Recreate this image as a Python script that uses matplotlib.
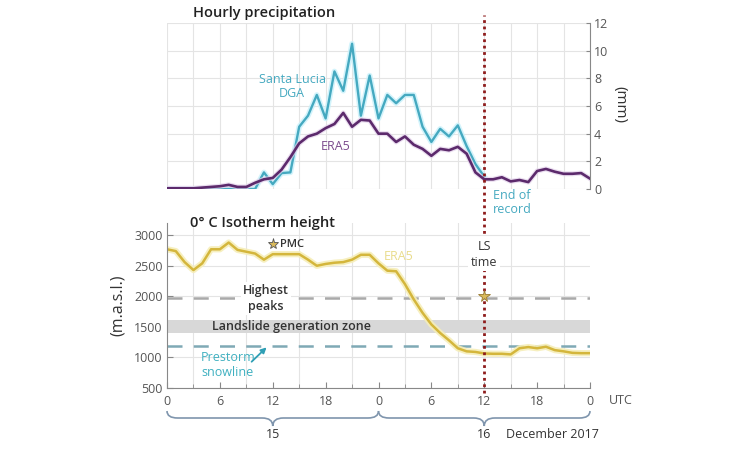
import matplotlib
matplotlib.use("Agg")
import matplotlib.pyplot as plt
from matplotlib.path import Path
from matplotlib.patches import PathPatch
from matplotlib.lines import Line2D
import matplotlib.transforms as mtrans
import numpy as np

plt.rcParams['font.family'] = ['Open Sans', 'DejaVu Sans']

# ---- data ----
hours = list(range(49))
era5_precip = [0.05, 0.05, 0.05, 0.05, 0.1, 0.15, 0.2, 0.3, 0.15, 0.15, 0.45, 0.7, 0.8,
               1.4, 2.3, 3.3, 3.8, 4.0, 4.4, 4.7, 5.5, 4.5, 5.0, 4.95, 4.0, 4.0, 3.4,
               3.8, 3.2, 2.9, 2.4, 2.9, 2.8, 3.05, 2.55, 1.2, 0.7, 0.7, 0.85, 0.55,
               0.65, 0.5, 1.3, 1.45, 1.25, 1.1, 1.1, 1.15, 0.75]
dga_hours = list(range(37))
dga_precip = [0, 0, 0, 0, 0, 0, 0, 0, 0, 0, 0, 1.2, 0.35, 1.15, 1.2, 4.5, 5.3, 6.8,
              5.1, 8.5, 7.1, 10.5, 5.3, 8.2, 5.1, 6.8, 6.2, 6.8, 6.8, 4.5, 3.4, 4.35,
              3.8, 4.6, 3.1, 1.8, 0.9]
era5_iso = [2770, 2740, 2560, 2430, 2540, 2770, 2770, 2880, 2760, 2730, 2700, 2600,
            2690, 2690, 2690, 2690, 2600, 2500, 2530, 2550, 2560, 2600, 2680, 2680,
            2540, 2420, 2410, 2200, 1950, 1730, 1540, 1400, 1280, 1150, 1100, 1090,
            1065, 1060, 1060, 1050, 1150, 1170, 1150, 1175, 1120, 1100, 1075, 1070, 1070]
highest_peaks = 1970
landslide_zone = (1400, 1620)
prestorm_snowline = 1190
ls_time = 36
pmc = (12, 2850)
ls_star = (36, 2000)
xtick_pos = [0, 6, 12, 18, 24, 30, 36, 42, 48]
xtick_labels = ['0', '6', '12', '18', '0', '6', '12', '18', '0']
day_labels = ['15', '16']
day_centers = [12, 36]

W, H = 738, 450
fig = plt.figure(figsize=(W / 100, H / 100), dpi=100)
fig.patch.set_facecolor('white')

def fx(px):
    return px / W

def fy(py):
    return 1 - py / H

L, R = 167, 590
ax1 = fig.add_axes([fx(L), fy(189), fx(R) - fx(L), fy(23) - fy(189)])
ax2 = fig.add_axes([fx(L), fy(388), fx(R) - fx(L), fy(223) - fy(388)])

TEAL = '#45a9c0'
PURPLE = '#5c2a6c'
YELLOW = '#d4b63c'
GRID = '#e4e4e4'
TXT = '#333333'
TICK = '#555555'

# ---- top panel ----
ax1.set_xlim(0, 48)
ax1.set_ylim(0, 12)
for s in ['left', 'top', 'bottom']:
    ax1.spines[s].set_visible(False)
ax1.spines['right'].set_color('#888888')
ax1.yaxis.tick_right()
ax1.set_yticks(range(0, 13, 2))
ax1.set_xticks(range(0, 49, 3))
ax1.tick_params(axis='x', length=0, labelbottom=False)
ax1.tick_params(axis='y', direction='in', length=3, colors='#888888', labelcolor=TICK,
                labelsize=9, pad=3)
ax1.grid(True, color=GRID, lw=0.8)
ax1.set_axisbelow(True)
ax1.plot(dga_hours, dga_precip, color='#c8f1fb', lw=4.0, alpha=0.8, solid_joinstyle='round')
ax1.plot(dga_hours, dga_precip, color=TEAL, lw=1.7)
ax1.plot(hours, era5_precip, color='#e2d0ea', lw=3.6, alpha=0.7)
ax1.plot(hours, era5_precip, color=PURPLE, lw=1.9)
ax1.text(14.2, 7.4, 'Santa Lucia\nDGA', color=TEAL, ha='center', va='center',
         fontsize=9, linespacing=1.1)
ax1.text(19.1, 3.1, 'ERA5', color='#7a4a8c', ha='center', va='center', fontsize=9)
ax1.text(37.0, -1.0, 'End of\nrecord', color=TEAL, ha='left', va='center', fontsize=9,
         linespacing=1.1, clip_on=False)
fig.text(fx(620), fy(105), '(mm)', rotation=-90, ha='center', va='center',
         fontsize=11, color=TXT)
fig.text(fx(193), fy(13), 'Hourly precipitation', ha='left', va='center',
         fontsize=10.5, color='#222222', fontweight='semibold')

# ---- bottom panel ----
ax2.set_xlim(0, 48)
ax2.set_ylim(500, 3200)
for s in ['top', 'right']:
    ax2.spines[s].set_visible(False)
for s in ['left', 'bottom']:
    ax2.spines[s].set_color('#888888')
ax2.set_xticks(xtick_pos)
ax2.set_xticklabels(xtick_labels)
ax2.set_xticks(range(0, 49, 3), minor=True)
ax2.set_yticks(range(500, 3001, 500))
ax2.tick_params(axis='both', which='major', direction='in', length=4, colors='#888888',
                labelcolor=TICK, labelsize=9)
ax2.tick_params(axis='x', which='major', pad=5)
ax2.tick_params(axis='y', which='major', pad=3)
ax2.tick_params(axis='x', which='minor', direction='in', length=3, colors='#888888')
ax2.grid(True, which='minor', axis='x', color=GRID, lw=0.8)
ax2.grid(True, which='major', axis='y', color=GRID, lw=0.8)
ax2.set_axisbelow(True)

ax2.axhspan(landslide_zone[0], landslide_zone[1], color='#d8d8d8', lw=0, zorder=1)
ax2.axhline(highest_peaks, color='#a9a9a9', lw=1.8, dashes=(6, 4.5), zorder=1.5)
ax2.axhline(prestorm_snowline, color='#7fa9b5', lw=1.8, dashes=(6, 4.5), zorder=1.5)
ax2.plot(hours, era5_iso, color='#f6eeb8', lw=4.5, alpha=0.9, solid_joinstyle='round', zorder=2)
ax2.plot(hours, era5_iso, color=YELLOW, lw=1.8, zorder=2.5)

ax2.text(11.25, highest_peaks, 'Highest\npeaks', ha='center', va='center', fontsize=9,
         color=TXT, fontweight='semibold', linespacing=1.3,
         bbox=dict(facecolor='white', edgecolor='none', pad=1.5), zorder=4)
ax2.text(14.1, 1500, 'Landslide generation zone', ha='center', va='center', fontsize=9,
         color=TXT, fontweight='semibold', zorder=4)
ax2.text(6.9, 870, 'Prestorm\nsnowline', ha='center', va='center', fontsize=9,
         color='#3fb0c0', linespacing=1.2, zorder=4)
ax2.annotate('', xy=(11.3, 1165), xytext=(9.6, 930),
             arrowprops=dict(arrowstyle='-|>', color='#2f9fb5', lw=1.3,
                             mutation_scale=8, shrinkA=0, shrinkB=0), zorder=4)
ax2.text(26.3, 2645, 'ERA5', color='#e9dc8c', ha='center', va='center', fontsize=9, zorder=4)
ax2.plot([pmc[0]], [pmc[1]], marker='*', ms=8, mfc='#d9b95a', mec='#555555', mew=0.6,
         zorder=5, clip_on=False)
ax2.text(pmc[0] + 0.8, pmc[1], 'PMC', ha='left', va='center', fontsize=8, color=TXT,
         fontweight='semibold', zorder=5)
fig.text(fx(190), fy(223), '0° C Isotherm height', ha='left', va='center',
         fontsize=10.5, color='#222222', fontweight='semibold')
ax2.set_ylabel('(m.a.s.l.)', fontsize=11.5, color=TXT, labelpad=6)

# LS dotted line across both panels
blend = mtrans.blended_transform_factory(ax2.transData, fig.transFigure)
ls_line = Line2D([ls_time, ls_time], [fy(393), fy(15)], transform=blend, color='#8e1c1c',
                 lw=2.0, linestyle=(0, (1, 1.3)), clip_on=False, zorder=3)
ax2.add_line(ls_line)
ax2.plot([ls_star[0]], [ls_star[1]], marker='*', ms=8.5, mfc='#d9b95a', mec='#9a7a30',
         mew=0.6, zorder=6)
ax2.text(ls_time, 2690, 'LS\ntime', ha='center', va='center', fontsize=9, color=TXT,
         linespacing=1.3, bbox=dict(facecolor='white', edgecolor='none', pad=2), zorder=6)

# UTC label
fig.text(fx(621), fy(400), 'UTC', ha='center', va='center', fontsize=9, color=TICK)

# braces
def brace(x0, x1, ytop, ymid, ybot, w=1.2):
    xm = (x0 + x1) / 2
    verts = [(x0, ytop), (x0, ymid), (x0 + w, ymid),
             (xm - w, ymid),
             (xm, ymid), (xm, ybot),
             (xm, ymid), (xm + w, ymid),
             (x1 - w, ymid),
             (x1, ymid), (x1, ytop)]
    codes = [Path.MOVETO, Path.CURVE3, Path.CURVE3, Path.LINETO,
             Path.CURVE3, Path.CURVE3, Path.CURVE3, Path.CURVE3,
             Path.LINETO, Path.CURVE3, Path.CURVE3]
    p = PathPatch(Path(verts, codes), transform=blend, facecolor='none',
                  edgecolor='#7f95ad', lw=1.2, clip_on=False)
    ax2.add_patch(p)

brace(0, 24, fy(411), fy(418), fy(426))
brace(24, 48, fy(411), fy(418), fy(426))
for lab, c in zip(day_labels, day_centers):
    ax2.text(c, fy(434), lab, transform=blend, ha='center', va='center', fontsize=9,
             color=TXT, clip_on=False)
fig.text(fx(552), fy(434), 'December 2017', ha='center', va='center', fontsize=9, color=TXT)

fig.savefig('out.png', dpi=100)
